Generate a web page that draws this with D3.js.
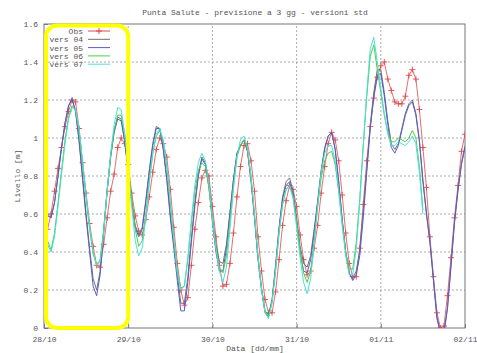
<!DOCTYPE html>
<html>
<head>
<meta charset="utf-8">
<script src="https://cdn.jsdelivr.net/npm/d3@7"></script>
<style>
  body { margin: 0; background: #fff; }
  text { font-family: "Liberation Mono", "DejaVu Sans Mono", monospace; font-size: 8px; fill: #555; }
</style>
</head>
<body>
<div id="chart"></div>
<script>
// hourly values, first value = 28/10 00:00
const startTime = new Date(2010, 9, 28, 0, 0);
const tickLabels = ['28/10', '29/10', '30/10', '31/10', '01/11', '02/11'];
const yTicks = [0, 0.2, 0.4, 0.6, 0.8, 1, 1.2, 1.4, 1.6];

const obs = [0.50,0.52,0.60,0.72,0.84,0.95,1.06,1.14,1.20,1.19,1.05,0.87,0.71,0.55,0.43,0.33,0.32,0.44,0.58,0.72,
  0.81,0.95,1.00,0.97,0.86,0.71,0.59,0.51,0.49,0.57,0.69,0.82,0.94,1.00,0.97,0.90,0.73,0.53,0.34,0.20,
  0.12,0.16,0.33,0.52,0.66,0.79,0.83,0.80,0.64,0.48,0.33,0.22,0.23,0.34,0.50,0.69,0.85,0.96,0.97,0.88,
  0.72,0.48,0.30,0.15,0.08,0.08,0.19,0.36,0.54,0.67,0.75,0.73,0.64,0.49,0.36,0.28,0.30,0.42,0.54,0.71,
  0.85,0.97,1.03,0.99,0.88,0.70,0.50,0.34,0.27,0.27,0.42,0.65,0.88,1.06,1.21,1.32,1.38,1.40,1.31,1.25,
  1.19,1.18,1.18,1.22,1.33,1.36,1.31,1.15,0.95,0.74,0.48,0.27,0.08,0.00,0.01,0.17,0.37,0.58,0.75,0.93,1.02];

const vers04 = [0.62,0.59,0.58,0.66,0.80,0.95,1.08,1.17,1.20,1.14,0.99,0.80,0.60,0.42,0.26,0.20,0.30,0.51,0.73,0.91,
  1.04,1.11,1.10,0.99,0.83,0.67,0.54,0.49,0.53,0.67,0.83,0.97,1.06,1.05,0.94,0.79,0.60,0.44,0.28,0.13,
  0.13,0.27,0.47,0.66,0.81,0.90,0.87,0.76,0.59,0.44,0.35,0.34,0.44,0.61,0.78,0.92,0.96,0.99,0.93,0.78,
  0.58,0.37,0.21,0.09,0.07,0.15,0.33,0.53,0.69,0.77,0.79,0.72,0.58,0.43,0.34,0.32,0.38,0.52,0.67,0.83,
  0.95,1.01,1.03,0.94,0.77,0.57,0.40,0.29,0.26,0.30,0.41,0.62,0.84,1.07,1.24,1.36,1.36,1.24,1.09,0.97,
  0.94,0.97,1.05,1.13,1.18,1.20,1.13,0.99,0.78,0.61,0.46,0.26,0.06,-0.02,-0.02,0.11,0.33,0.56,0.73,0.87,0.96];

const vers05 = [0.63,0.60,0.58,0.66,0.80,0.95,1.08,1.17,1.21,1.14,0.98,0.78,0.58,0.40,0.22,0.17,0.28,0.50,0.72,0.90,
  1.03,1.10,1.09,0.98,0.82,0.66,0.53,0.48,0.52,0.66,0.82,0.96,1.05,1.05,0.94,0.78,0.58,0.42,0.25,0.09,
  0.09,0.24,0.45,0.64,0.80,0.89,0.86,0.74,0.56,0.40,0.30,0.30,0.42,0.60,0.78,0.92,0.96,0.99,0.93,0.78,
  0.58,0.36,0.20,0.08,0.06,0.14,0.32,0.52,0.68,0.75,0.77,0.70,0.56,0.40,0.30,0.29,0.36,0.50,0.66,0.82,
  0.94,1.01,1.03,0.94,0.77,0.57,0.40,0.29,0.25,0.28,0.38,0.58,0.82,1.05,1.22,1.33,1.34,1.22,1.07,0.95,
  0.92,0.96,1.04,1.12,1.17,1.19,1.12,0.98,0.77,0.60,0.45,0.25,0.05,-0.03,-0.03,0.10,0.32,0.55,0.72,0.86,0.95];

const vers06 = [0.53,0.46,0.41,0.50,0.66,0.83,0.99,1.11,1.17,1.15,1.03,0.86,0.68,0.52,0.39,0.33,0.36,0.52,0.72,0.90,
  1.04,1.12,1.12,1.02,0.86,0.68,0.52,0.43,0.46,0.60,0.77,0.92,1.01,1.04,0.98,0.85,0.66,0.47,0.30,0.21,
  0.22,0.36,0.55,0.72,0.83,0.87,0.85,0.74,0.57,0.42,0.32,0.29,0.38,0.56,0.75,0.90,0.96,0.99,0.94,0.80,
  0.60,0.38,0.21,0.09,0.06,0.14,0.30,0.50,0.65,0.73,0.75,0.69,0.56,0.41,0.29,0.24,0.30,0.46,0.64,0.79,
  0.88,0.92,0.93,0.86,0.72,0.55,0.40,0.31,0.31,0.45,0.68,0.96,1.22,1.43,1.49,1.36,1.24,1.12,1.03,0.98,
  0.98,1.00,0.99,0.98,1.00,1.04,1.00,0.85,0.62];

const vers07 = [0.50,0.44,0.40,0.48,0.64,0.81,0.97,1.10,1.16,1.15,1.05,0.88,0.70,0.54,0.40,0.33,0.35,0.50,0.72,0.92,
  1.07,1.16,1.15,1.02,0.84,0.64,0.46,0.38,0.42,0.58,0.76,0.92,1.02,1.05,0.99,0.86,0.67,0.47,0.29,0.20,
  0.22,0.37,0.57,0.75,0.87,0.92,0.88,0.76,0.58,0.42,0.30,0.24,0.32,0.52,0.73,0.90,0.99,1.01,0.95,0.80,
  0.60,0.38,0.20,0.08,0.05,0.13,0.30,0.50,0.65,0.73,0.75,0.68,0.53,0.37,0.24,0.18,0.26,0.44,0.64,0.82,
  0.92,0.96,0.96,0.88,0.72,0.54,0.38,0.28,0.28,0.42,0.66,0.96,1.24,1.47,1.53,1.40,1.26,1.13,1.02,0.96,
  0.96,0.98,0.97,0.96,0.98,1.01,0.97,0.82,0.60];

const seriesNames = ['vers 04', 'vers 05', 'vers 06', 'vers 07'];
const seriesValues = [vers04, vers05, vers06, vers07];
const seriesColors = ['#707070', '#5a5ad0', '#4ccc4c', '#4ae0d8'];
const obsColor = '#e04848';

const width = 477, height = 353;
const margin = { top: 24, right: 12, bottom: 25, left: 44 };

const endTime = d3.timeDay.offset(startTime, 5);
const toDate = i => d3.timeHour.offset(startTime, i);

const x = d3.scaleTime().domain([startTime, endTime]).range([margin.left, width - margin.right]);
const y = d3.scaleLinear().domain([0, 1.6]).range([height - margin.bottom, margin.top]);

const svg = d3.select('#chart').append('svg')
  .attr('width', width).attr('height', height);

svg.append('defs').append('clipPath').attr('id', 'clip')
  .append('rect')
  .attr('x', margin.left).attr('y', margin.top)
  .attr('width', width - margin.left - margin.right)
  .attr('height', height - margin.top - margin.bottom);

// grid
const dayTicks = d3.timeDay.range(startTime, d3.timeDay.offset(endTime, 1));
svg.append('g').selectAll('line.gx')
  .data(dayTicks.slice(1, -1)).join('line')
  .attr('x1', d => x(d)).attr('x2', d => x(d))
  .attr('y1', y(0)).attr('y2', y(1.6))
  .attr('stroke', '#888').attr('stroke-dasharray', '2,2').attr('stroke-width', 0.7);
svg.append('g').selectAll('line.gy')
  .data(yTicks.slice(1, -1)).join('line')
  .attr('x1', x(startTime)).attr('x2', x(endTime))
  .attr('y1', d => y(d)).attr('y2', d => y(d))
  .attr('stroke', '#888').attr('stroke-dasharray', '2,2').attr('stroke-width', 0.7);

// axes
const xAxis = d3.axisBottom(x).tickValues(dayTicks).tickSize(-4).tickPadding(8)
  .tickFormat((d, i) => tickLabels[i]);
const yAxis = d3.axisLeft(y).tickValues(yTicks).tickSize(-4).tickPadding(6)
  .tickFormat(d => String(d));

const gx = svg.append('g').attr('transform', `translate(0,${y(0)})`).call(xAxis);
const gy = svg.append('g').attr('transform', `translate(${x(startTime)},0)`).call(yAxis);
[gx, gy].forEach(g => {
  g.select('.domain').remove();
  g.selectAll('.tick line').attr('stroke', '#777');
  g.selectAll('.tick text').attr('fill', '#555')
    .style('font-family', '"Liberation Mono", monospace').style('font-size', '8px');
});

svg.append('rect')
  .attr('x', x(startTime)).attr('y', y(1.6))
  .attr('width', x(endTime) - x(startTime)).attr('height', y(0) - y(1.6))
  .attr('fill', 'none').attr('stroke', '#777').attr('stroke-width', 1);

// lines
const line = d3.line().x((d, i) => x(toDate(i))).y(d => y(d));
const plot = svg.append('g').attr('clip-path', 'url(#clip)');

plot.append('path').datum(obs)
  .attr('d', line).attr('fill', 'none')
  .attr('stroke', obsColor).attr('stroke-width', 0.8);
plot.append('g').selectAll('path')
  .data(obs).join('path')
  .attr('transform', (d, i) => `translate(${x(toDate(i))},${y(d)})`)
  .attr('d', 'M-3,0H3M0,-3V3')
  .attr('stroke', obsColor).attr('stroke-width', 0.9);

seriesValues.forEach((vals, k) => {
  plot.append('path').datum(vals)
    .attr('d', line).attr('fill', 'none')
    .attr('stroke', seriesColors[k]).attr('stroke-width', 1);
});

// legend
const legend = svg.append('g');
const legendRows = ['Obs'].concat(seriesNames);
const legendColors = [obsColor].concat(seriesColors);
legendRows.forEach((name, i) => {
  const ly = 31 + i * 8.3;
  legend.append('text').attr('x', 83).attr('y', ly + 3)
    .attr('text-anchor', 'end').text(name);
  legend.append('line').attr('x1', 88).attr('x2', 110)
    .attr('y1', ly).attr('y2', ly)
    .attr('stroke', legendColors[i]).attr('stroke-width', 1);
  if (i === 0) {
    legend.append('path').attr('transform', `translate(99,${ly})`)
      .attr('d', 'M-3,0H3M0,-3V3').attr('stroke', obsColor);
  }
});

// titles
svg.append('text').attr('x', 255).attr('y', 15).attr('text-anchor', 'middle')
  .text('Punta Salute - previsione a 3 gg - versioni std');
svg.append('text').attr('x', 255).attr('y', 351).attr('text-anchor', 'middle')
  .text('Data [dd/mm]');
svg.append('text').attr('transform', `translate(20,${(y(0) + y(1.6)) / 2}) rotate(-90)`)
  .attr('text-anchor', 'middle').text('Livello [m]');

// yellow highlight box around the first day
svg.append('rect')
  .attr('x', x(startTime) + 2).attr('y', y(1.6) + 1.5)
  .attr('width', x(toDate(24)) - x(startTime) - 2)
  .attr('height', y(0) - y(1.6) - 1.5)
  .attr('rx', 11).attr('ry', 11)
  .attr('fill', 'none').attr('stroke', '#ffff00').attr('stroke-width', 4);
</script>
</body>
</html>
